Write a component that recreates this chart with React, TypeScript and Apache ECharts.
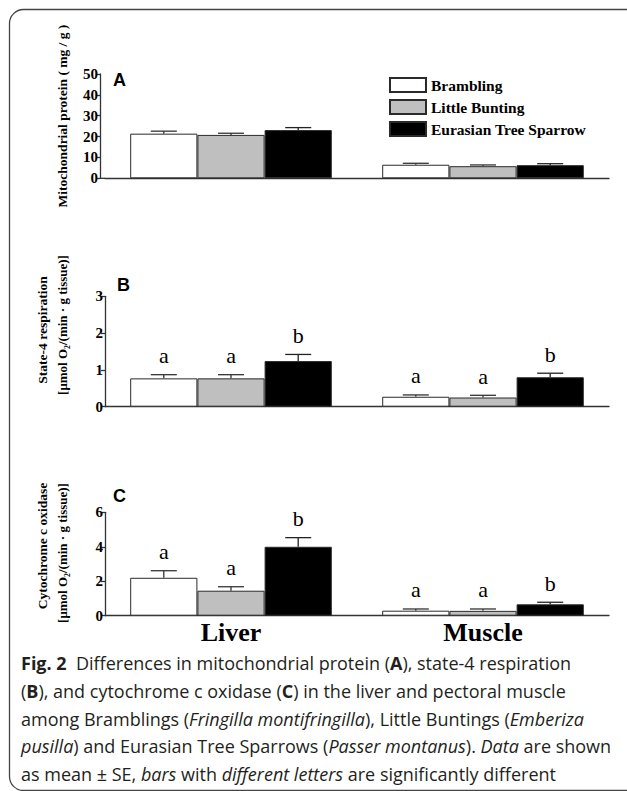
import React, { useEffect, useRef } from 'react';
import * as echarts from 'echarts';

const categories = ['Liver', 'Muscle'];
const species = ['Brambling', 'Little Bunting', 'Eurasian Tree Sparrow'];
const speciesColors = ['#ffffff', '#bfbfbf', '#000000'];

// Panel A: mitochondrial protein (mg/g) — [Liver, Muscle] per species
const proteinMean = [[21.4, 6.5], [20.8, 5.8], [23.1, 6.3]];
const proteinSE = [[1.2, 0.7], [0.8, 0.6], [1.2, 0.7]];

// Panel B: state-4 respiration
const state4Mean = [[0.77, 0.27], [0.77, 0.25], [1.24, 0.8]];
const state4SE = [[0.1, 0.05], [0.1, 0.06], [0.18, 0.11]];
const state4Letters = [['a', 'a'], ['a', 'a'], ['b', 'b']];

// Panel C: cytochrome c oxidase
const coxMean = [[2.2, 0.29], [1.45, 0.28], [4.0, 0.66]];
const coxSE = [[0.41, 0.1], [0.23, 0.11], [0.53, 0.12]];
const coxLetters = [['a', 'a'], ['a', 'a'], ['b', 'b']];

// Y axis ticks
const yMaxA = 50, yStepA = 10;
const yMaxB = 3, yStepB = 1;
const yMaxC = 6, yStepC = 2;

const SERIF = "'Liberation Serif', 'Times New Roman', Times, serif";
const SANS = "'Liberation Sans', Arial, Helvetica, sans-serif";
const CAP_FONT = "'Open Sans', 'Noto Sans', sans-serif";

const panels = [
  { mean: proteinMean, se: proteinSE, letters: null as null | string[][], max: yMaxA, step: yStepA, top: 74, height: 104.3 },
  { mean: state4Mean, se: state4SE, letters: state4Letters, max: yMaxB, step: yStepB, top: 296.3, height: 110.4 },
  { mean: coxMean, se: coxSE, letters: coxLetters, max: yMaxC, step: yStepC, top: 512.3, height: 103.4 },
];

const GRID_LEFT = 105;
const GRID_RIGHT = 18;

function buildOption() {
  const grid = panels.map((p) => ({ left: GRID_LEFT, right: GRID_RIGHT, top: p.top, height: p.height }));
  const xAxis = panels.map((p, i) => ({
    type: 'category',
    gridIndex: i,
    data: categories,
    axisTick: { show: false },
    axisLine: { lineStyle: { color: '#333', width: 1.3 } },
    axisLabel: {
      show: i === 2,
      fontFamily: SERIF,
      fontWeight: 'bold',
      fontSize: 26,
      color: '#000',
      margin: 4,
    },
  }));
  const yAxis = panels.map((p, i) => ({
    type: 'value',
    gridIndex: i,
    min: 0,
    max: p.max,
    interval: p.step,
    offset: i === 0 ? 5 : 0,
    splitLine: { show: false },
    axisLine: { show: true, lineStyle: { color: '#333', width: 1.3 } },
    axisTick: { show: true, length: 4, lineStyle: { color: '#333', width: 1.3 } },
    axisLabel: { fontFamily: SERIF, fontWeight: 'bold', fontSize: 15, color: '#000', margin: 2 },
  }));

  const series: any[] = [];
  panels.forEach((p, pi) => {
    species.forEach((sp, si) => {
      series.push({
        type: 'bar',
        name: sp,
        xAxisIndex: pi,
        yAxisIndex: pi,
        data: p.mean[si],
        barGap: '0%',
        barCategoryGap: '20%',
        itemStyle: { color: speciesColors[si], borderColor: '#2a2a2a', borderWidth: 1 },
        emphasis: { disabled: true },
      });
    });
    const errData: number[][] = [];
    species.forEach((sp, si) => {
      categories.forEach((c, ci) => {
        errData.push([ci, p.mean[si][ci], p.se[si][ci], si]);
      });
    });
    series.push({
      type: 'custom',
      xAxisIndex: pi,
      yAxisIndex: pi,
      data: errData,
      encode: { x: 0, y: 1 },
      z: 5,
      renderItem: (params: any, api: any) => {
        const ci = api.value(0);
        const mean = api.value(1);
        const se = api.value(2);
        const si = api.value(3);
        const band = api.size([1, 0])[0];
        const bw = (band * 0.8) / 3;
        const base = api.coord([ci, mean]);
        const x = base[0] + (si - 1) * bw;
        const yTop = api.coord([ci, mean + se])[1];
        const half = 13;
        const stroke = si === 2 ? '#222' : '#333';
        const children: any[] = [
          { type: 'line', shape: { x1: x, y1: base[1], x2: x, y2: yTop }, style: { stroke, lineWidth: 1.3 } },
          { type: 'line', shape: { x1: x - half, y1: yTop, x2: x + half, y2: yTop }, style: { stroke, lineWidth: 1.3 } },
        ];
        if (p.letters) {
          children.push({
            type: 'text',
            x,
            y: yTop - 19,
            style: {
              text: p.letters[si][ci],
              fontFamily: SERIF,
              fontSize: 22,
              fill: '#000',
              align: 'center',
              verticalAlign: 'middle',
            },
          });
        }
        return { type: 'group', children };
      },
    });
  });

  const yLabelStyle = { fontFamily: SERIF, fontWeight: 'bold', fill: '#000', align: 'center', verticalAlign: 'middle' };
  const rot = Math.PI / 2;

  const capLines = [
    '{b|Fig. 2}  Differences in mitochondrial protein ({b|A}), state-4 respiration',
    '({b|B}), and cytochrome c oxidase ({b|C}) in the liver and pectoral muscle',
    'among Bramblings ({i|Fringilla montifringilla}), Little Buntings ({i|Emberiza}',
    '{i|pusilla}) and Eurasian Tree Sparrows ({i|Passer montanus}). {i|Data} are shown',
    'as mean \u00b1 SE, {i|bars} with {i|different letters} are significantly different',
  ];
  const capY = [663, 691, 718.5, 746, 773.5];
  const capSize = 18;

  const graphic: any[] = [
    {
      type: 'rect',
      shape: { x: 9.5, y: 9.5, width: 660, height: 781, r: 14 },
      style: { fill: 'none', stroke: '#444', lineWidth: 1.3 },
      silent: true,
    },
    // connect x axis of A to its offset y axis
    {
      type: 'line',
      shape: { x1: GRID_LEFT - 5, y1: panels[0].top + panels[0].height, x2: GRID_LEFT, y2: panels[0].top + panels[0].height },
      style: { stroke: '#333', lineWidth: 1.3 },
    },
    { type: 'text', x: 113, y: 80, style: { text: 'A', fontFamily: SANS, fontWeight: 'bold', fontSize: 18, fill: '#000', verticalAlign: 'middle' } },
    { type: 'text', x: 117, y: 285, style: { text: 'B', fontFamily: SANS, fontWeight: 'bold', fontSize: 18, fill: '#000', verticalAlign: 'middle' } },
    { type: 'text', x: 113, y: 496, style: { text: 'C', fontFamily: SANS, fontWeight: 'bold', fontSize: 18, fill: '#000', verticalAlign: 'middle' } },
    { type: 'text', x: 62, y: 116, rotation: rot, style: { ...yLabelStyle, text: 'Mitochondrial protein ( mg / g )', fontSize: 13.5 } },
    { type: 'text', x: 42, y: 330, rotation: rot, style: { ...yLabelStyle, text: 'State-4 respiration', fontSize: 13.5 } },
    { type: 'text', x: 62, y: 325, rotation: rot, style: { ...yLabelStyle, text: '[\u03bcmol O\u2082/(min \u00b7 g tissue)]', fontSize: 13 } },
    { type: 'text', x: 42, y: 546, rotation: rot, style: { ...yLabelStyle, text: 'Cytochrome c oxidase', fontSize: 13.5 } },
    { type: 'text', x: 62, y: 553, rotation: rot, style: { ...yLabelStyle, text: '[\u03bcmol O\u2082/(min \u00b7 g tissue)]', fontSize: 13 } },
  ];
  capLines.forEach((t, i) => {
    graphic.push({
      type: 'text',
      x: 21,
      y: capY[i],
      style: {
        text: t,
        fontFamily: CAP_FONT,
        fontSize: capSize,
        fill: '#231f20',
        verticalAlign: 'middle',
        rich: {
          b: { fontFamily: CAP_FONT, fontSize: capSize, fontWeight: 'bold', fill: '#231f20' },
          i: { fontFamily: CAP_FONT, fontSize: capSize, fontStyle: 'italic', fill: '#231f20' },
        },
      },
    });
  });

  return {
    animation: false,
    backgroundColor: '#ffffff',
    grid,
    xAxis,
    yAxis,
    series,
    legend: {
      data: species,
      orient: 'vertical',
      left: 384,
      top: 72,
      icon: 'rect',
      itemWidth: 36,
      itemHeight: 14,
      itemGap: 6,
      selectedMode: false,
      textStyle: { fontFamily: SERIF, fontWeight: 'bold', fontSize: 15.5, color: '#000' },
    },
    graphic,
  };
}

export default function App() {
  const ref = useRef<HTMLDivElement>(null);
  useEffect(() => {
    if (!ref.current) return;
    const chart = echarts.init(ref.current, undefined, { renderer: 'svg' });
    chart.setOption(buildOption() as any);
    return () => chart.dispose();
  }, []);
  return <div ref={ref} style={{ position: 'absolute', left: 0, top: 0, width: 627, height: 791 }} />;
}
